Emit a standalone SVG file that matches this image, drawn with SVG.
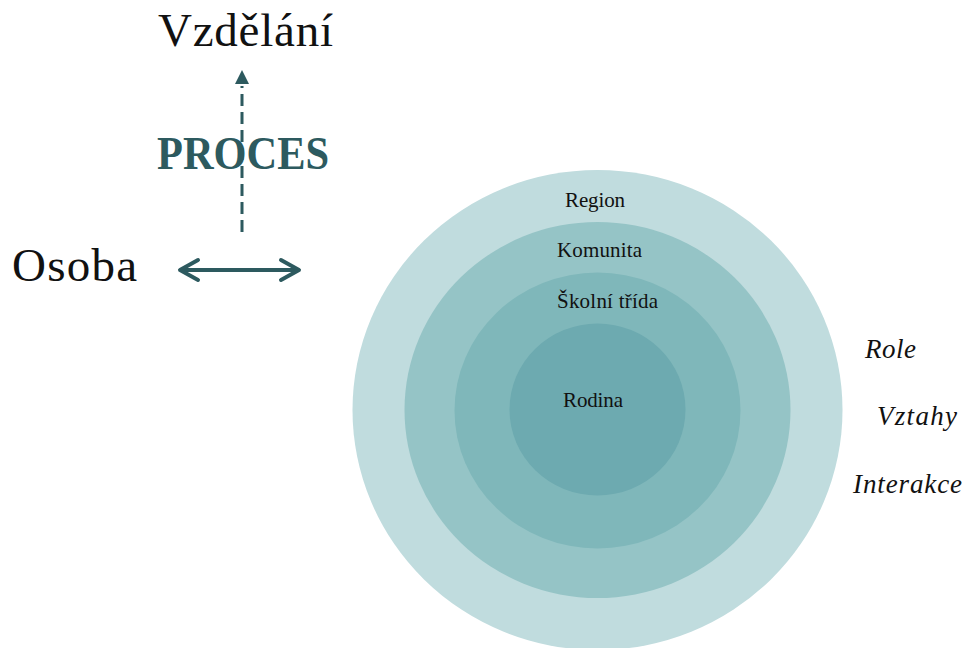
<svg xmlns="http://www.w3.org/2000/svg" width="965" height="648" viewBox="0 0 965 648">
  <style>
    .lbl { font-family: "Liberation Serif", "DejaVu Serif", serif; fill: #111111; }
    .big { font-size: 47px; }
    .ring { font-size: 21px; text-anchor: middle; }
    .side { font-size: 27px; font-style: italic; }
    .proc { font-family: "Liberation Serif", "DejaVu Serif", serif; font-weight: bold; font-size: 47px; fill: #2d5a5f; }
    .line { stroke: #2d5a5f; fill: none; }
  </style>

  <!-- nested spheres -->
  <g id="region">
    <ellipse cx="597.5" cy="410" rx="245" ry="240" fill="#c0dcde"/>
    <text class="lbl ring" x="595" y="207" textLength="60">Region</text>
  </g>
  <g id="komunita">
    <ellipse cx="597.5" cy="410" rx="193" ry="188" fill="#95c4c6"/>
    <text class="lbl ring" x="599.5" y="257" textLength="85">Komunita</text>
  </g>
  <g id="skolni-trida">
    <ellipse cx="597.5" cy="410.5" rx="143" ry="138" fill="#7fb7ba"/>
    <text class="lbl ring" x="607.5" y="308" textLength="101">Školní třída</text>
  </g>
  <g id="rodina">
    <ellipse cx="597.5" cy="409.5" rx="88" ry="86" fill="#6daab0"/>
    <text class="lbl ring" x="593" y="407" textLength="60">Rodina</text>
  </g>

  <!-- left-hand labels -->
  <g id="vzdelani">
    <text class="lbl big" x="158" y="46" textLength="175">Vzdělání</text>
  </g>
  <g id="osoba">
    <text class="lbl big" x="12" y="281" textLength="125">Osoba</text>
  </g>

  <!-- connectors -->
  <g id="connectors">
    <line class="line" x1="242" y1="232" x2="242" y2="86" stroke-width="3" stroke-dasharray="12 6"/>
    <path d="M235,84 L242,70 L249,84 Z" fill="#2d5a5f"/>
    <line class="line" x1="180" y1="270" x2="299" y2="270" stroke-width="4"/>
    <path class="line" d="M198,260 L180,270 L198,280" stroke-width="4" stroke-linecap="round" stroke-linejoin="round"/>
    <path class="line" d="M281,260 L299,270 L281,280" stroke-width="4" stroke-linecap="round" stroke-linejoin="round"/>
  </g>

  <g id="proces">
    <text class="proc" x="157" y="169" textLength="172" lengthAdjust="spacingAndGlyphs">PROCES</text>
  </g>

  <!-- right-hand labels -->
  <g id="role">
    <text class="lbl side" x="865" y="358" textLength="51">Role</text>
  </g>
  <g id="vztahy">
    <text class="lbl side" x="877" y="425" textLength="80">Vztahy</text>
  </g>
  <g id="interakce">
    <text class="lbl side" x="853" y="493" textLength="109">Interakce</text>
  </g>
</svg>
